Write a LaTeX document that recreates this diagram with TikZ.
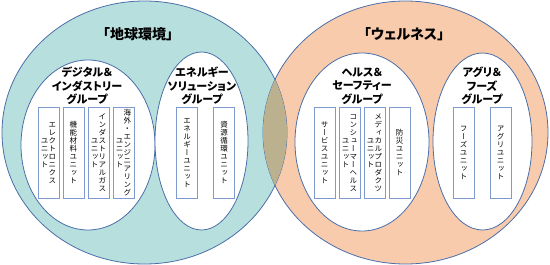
\documentclass[tikz,border=0pt]{standalone}
\usepackage{fontspec}
\setmainfont{Noto Sans CJK JP}[RawFeature=+palt]
\newfontfamily\tatefont[RawFeature=+vert]{Noto Sans CJK JP}
\usepackage{tikz}
\usetikzlibrary{positioning,shapes.geometric}
\usepackage{xcolor}

\definecolor{earthfill}{HTML}{B7DFDD}
\definecolor{wellfill}{HTML}{F8CBAD}
\definecolor{lensfill}{HTML}{BCB18F}
\definecolor{ringline}{HTML}{4A6EA8}
\definecolor{unitline}{HTML}{7E9BD0}

\ExplSyntaxOn
\NewDocumentCommand\tatecol{m}
  {
    \vbox
      {
        \offinterlineskip
        \tl_map_inline:nn {#1}
          { \hbox_to_wd:nn {1.05em} { \hss \rule[-.14em]{0pt}{1.07em} \smash{##1} \hss } }
      }
  }
\ExplSyntaxOff
\newcommand\twocol[2]{$\vcenter{\tatecol{#2}}\vcenter{\tatecol{#1}}$}
\newcommand\onecol[1]{$\vcenter{\tatecol{#1}}$}

\begin{document}
\begin{tikzpicture}[x=1pt, y=-1pt,
    ring/.style={draw=ringline, line width=0.8pt},
    groupring/.style={ellipse, draw=ringline, line width=0.8pt, fill=white, inner sep=0pt},
    unitbox/.style={rectangle, draw=unitline, line width=0.7pt, fill=white,
        minimum width=21pt, minimum height=91pt, inner sep=0pt,
        font=\tatefont\fontsize{7.5}{8}\selectfont},
    grouplabel/.style={align=center, font=\bfseries\fontsize{11}{13.5}\selectfont},
    ringtitle/.style={font=\bfseries\fontsize{14}{16}\selectfont}]
        \useasboundingbox (0,0) rectangle (550,265);

        % Outer rings
        \fill[earthfill] (144.5,132.5) ellipse [x radius=142.5, y radius=131.5];
        \fill[wellfill]  (405.5,132.5) ellipse [x radius=142.5, y radius=131.5];
        \draw[ring] (144.5,132.5) ellipse [x radius=142.5, y radius=131.5];
        \draw[ring] (405.5,132.5) ellipse [x radius=142.5, y radius=131.5];
        \begin{scope}
            \clip (144.5,132.5) ellipse [x radius=142.5, y radius=131.5];
            \fill[lensfill] (405.5,132.5) ellipse [x radius=142.5, y radius=131.5];
        \end{scope}

        % Ring titles
        \node[ringtitle] (earth)    at (138,34) {「地球環境」};
        \node[ringtitle] (wellness) at (404,34) {「ウェルネス」};

        % Group rings
        \node[groupring, minimum width=134pt, minimum height=170pt] (digital) at (88,145)      {};
        \node[groupring, minimum width=93pt,  minimum height=178pt] (energy)  at (201.5,141)   {};
        \node[groupring, minimum width=134pt, minimum height=178pt] (health)  at (362,142)     {};
        \node[groupring, minimum width=99pt,  minimum height=177pt] (agri)    at (482.5,141.5) {};

        % Group labels
        \node[grouplabel] (digitaltext) at (87,86)  {デジタル＆\\インダストリー\\グループ};
        \node[grouplabel] (energytext)  at (202,86) {エネルギー\\ソリューション\\グループ};
        \node[grouplabel] (healthtext)  at (362,86) {ヘルス＆\\セーフティー\\グループ};
        \node[grouplabel] (agritext)    at (482,86) {アグリ＆\\フーズ\\グループ};

        % Digital & industry units
        \node[unitbox] (elec) at (48.5,152.5) {\twocol{エレクトロニクス}{ユニット}};
        \node[unitbox, right=3.3pt of elec]   (func)     {\onecol{機能材料ユニット}};
        \node[unitbox, right=3.3pt of func]   (indgas)   {\twocol{インダストリアルガス}{ユニット}};
        \node[unitbox, right=3.3pt of indgas] (overseas) {\twocol{海外・エンジニアリング}{ユニット}};

        % Energy solution units
        \node[unitbox] (power)   at (187,152.5) {\onecol{エネルギーユニット}};
        \node[unitbox] (recycle) at (224,152.5) {\onecol{資源循環ユニット}};

        % Health & safety units
        \node[unitbox] (service) at (324.5,152.5) {\onecol{サービスユニット}};
        \node[unitbox, right=3.3pt of service]  (consumer) {\twocol{コンシューマーヘルス}{ユニット}};
        \node[unitbox, right=3.3pt of consumer] (medical)  {\twocol{メディカルプロダクツ}{ユニット}};
        \node[unitbox, right=3.3pt of medical]  (disaster) {\onecol{防災ユニット}};

        % Agri & foods units
        \node[unitbox] (foods)    at (463.5,152.5) {\onecol{フーズユニット}};
        \node[unitbox] (agriunit) at (500.5,152.5) {\onecol{アグリユニット}};
    \end{tikzpicture}
\end{document}
